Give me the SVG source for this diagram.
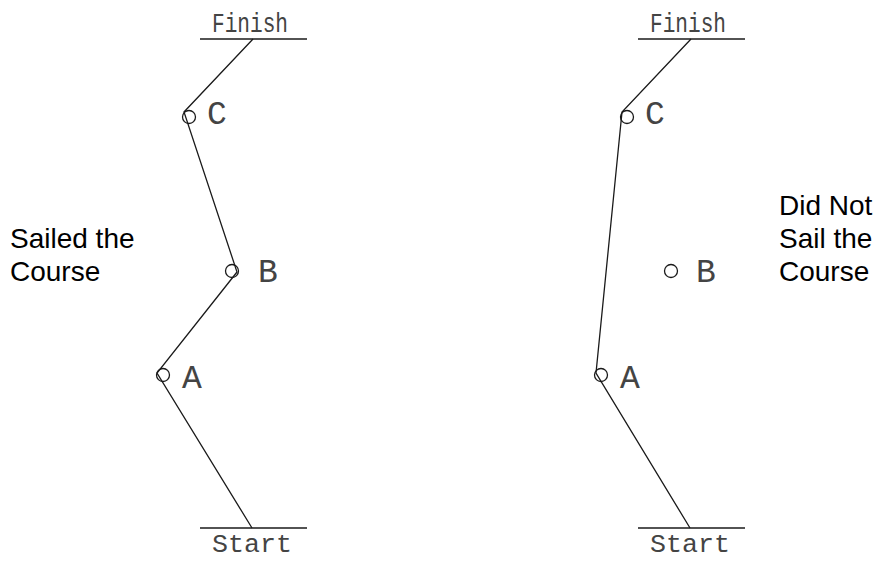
<svg xmlns="http://www.w3.org/2000/svg" width="882" height="561" viewBox="0 0 882 561">
<style>
.ln{stroke:#1a1a1a;stroke-width:1.3;fill:none}
.mk{stroke:#1a1a1a;stroke-width:1.3;fill:none}
.cad{font-family:"Liberation Mono","DejaVu Sans Mono",monospace;fill:#444;font-size:28px}
.cads{font-family:"Liberation Mono","DejaVu Sans Mono",monospace;fill:#444;font-size:25px}
.lbl{font-family:"Liberation Mono","DejaVu Sans Mono",monospace;fill:#444;font-size:33px}
.cap{font-family:"Liberation Sans",Arial,sans-serif;fill:#000;font-size:28px}
</style>
<rect width="882" height="561" fill="#fff"/>
<g id="left">
  <g id="L-finish"><line class="ln" x1="200" y1="39" x2="307" y2="39"/><text class="cad" x="212" y="32" textLength="76" lengthAdjust="spacingAndGlyphs">Finish</text></g>
  <g id="L-start"><line class="ln" x1="200" y1="528" x2="307" y2="528"/><text class="cads" x="212" y="552" textLength="80" lengthAdjust="spacingAndGlyphs">Start</text></g>
  <g id="L-C"><circle class="mk" cx="189" cy="117" r="6.5"/><text class="lbl" x="207" y="124">C</text></g>
  <g id="L-B"><circle class="mk" cx="232" cy="271" r="6.5"/><text class="lbl" x="258" y="282">B</text></g>
  <g id="L-A"><circle class="mk" cx="163" cy="375" r="6.5"/><text class="lbl" x="182" y="388">A</text></g>
  <g id="L-label"><text class="cap" x="10" y="248">Sailed the</text><text class="cap" x="10" y="281">Course</text></g>
</g>
<g id="right">
  <g id="R-finish"><line class="ln" x1="638" y1="39" x2="745" y2="39"/><text class="cad" x="650" y="32" textLength="76" lengthAdjust="spacingAndGlyphs">Finish</text></g>
  <g id="R-start"><line class="ln" x1="638" y1="528" x2="745" y2="528"/><text class="cads" x="650" y="552" textLength="80" lengthAdjust="spacingAndGlyphs">Start</text></g>
  <g id="R-C"><circle class="mk" cx="627" cy="117" r="6.5"/><text class="lbl" x="645" y="124">C</text></g>
  <g id="R-B"><circle class="mk" cx="671" cy="271" r="6.5"/><text class="lbl" x="696" y="282">B</text></g>
  <g id="R-A"><circle class="mk" cx="601" cy="375" r="6.5"/><text class="lbl" x="620" y="388">A</text></g>
  <g id="R-label"><text class="cap" x="779" y="215">Did Not</text><text class="cap" x="779" y="248">Sail the</text><text class="cap" x="779" y="281">Course</text></g>
</g>
<g id="connectors">
  <polyline class="ln" points="253,39 184,112 237,272 157,373 252,528"/>
  <polyline class="ln" points="691,39 622,112 596,373 690,528"/>
</g>
</svg>
